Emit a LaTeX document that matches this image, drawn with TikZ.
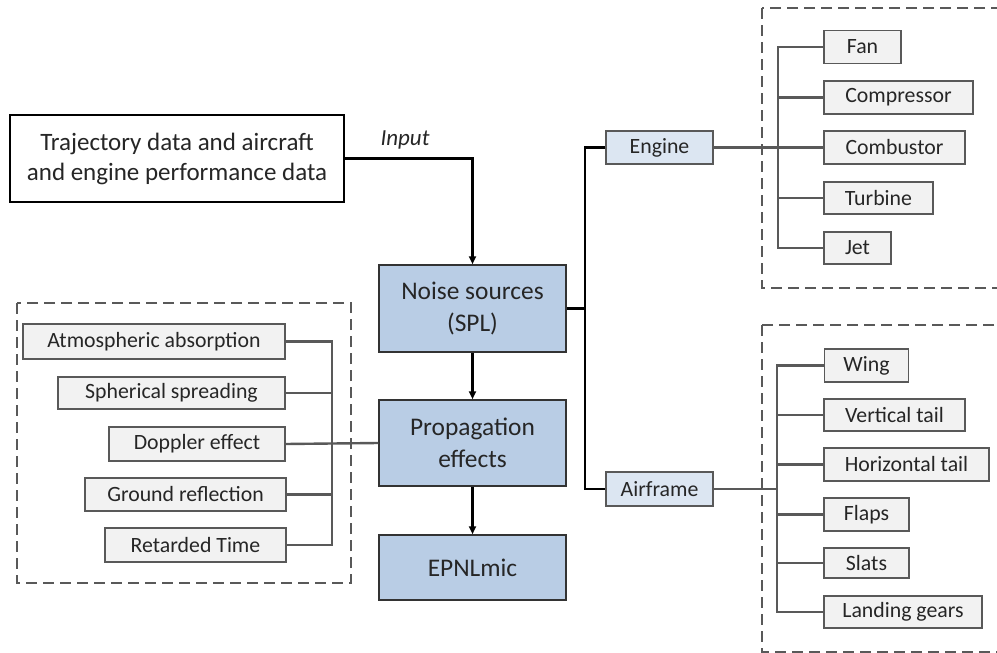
\documentclass[tikz,border=0pt]{standalone}
\usepackage{fontspec}
\setmainfont{Carlito}
\usetikzlibrary{arrows.meta}
\definecolor{mainblue}{HTML}{B9CDE5}
\definecolor{lightblue}{HTML}{DCE6F2}
\definecolor{boxgrey}{HTML}{F2F2F2}
\definecolor{linegrey}{HTML}{595959}
\definecolor{txt}{HTML}{262626}
\tikzset{
  mainbox/.style={draw=black!80, line width=1.5pt, fill=mainblue, inner sep=0pt, align=center, text=txt, font=\fontsize{25.4}{32}\selectfont},
  subbox/.style={draw=linegrey, line width=1.5pt, fill=lightblue, inner sep=0pt, text=txt, font=\fontsize{21.8}{26}\selectfont},
  leaf/.style={draw=linegrey, line width=1.5pt, fill=boxgrey, inner sep=0pt, text=txt, font=\fontsize{21.8}{26}\selectfont},
  inbox/.style={draw=black, line width=2.4pt, fill=white, inner sep=0pt, align=center, text=txt, font=\fontsize{25}{30}\selectfont},
  conn/.style={draw=black, line width=2.2pt},
  arr/.style={conn, -{Triangle[length=8pt,width=7pt]}},
  tree/.style={draw=linegrey, line width=2.4pt},
  dashbox/.style={draw=linegrey, line width=2.2pt, dash pattern=on 11pt off 6pt},
}
\begin{document}
\begin{tikzpicture}[x=1pt,y=-1pt]
\useasboundingbox (0,0) rectangle (997,653);
% dashed groups
\draw[dashbox] (762,8) rectangle (1010,288);
\draw[dashbox] (762,325) rectangle (1010,652);
\draw[dashbox] (17,303) rectangle (351,583);

% input
\node[inbox, minimum width=334, minimum height=87] (traj) at (177,158.5) {Trajectory data and aircraft\\and engine performance data};
\node[text=txt, font=\fontsize{23}{27}\selectfont\itshape] (inlab) at (405,140) {Input};

% main chain
\node[mainbox, minimum width=187, minimum height=87] (noise) at (472.5,308.5) {Noise sources\\(SPL)};
\node[mainbox, minimum width=187, minimum height=86] (prop) at (472.5,443) {Propagation\\effects};
\node[mainbox, minimum width=187, minimum height=65] (epnl) at (472.5,567.5) {EPNLmic};

\draw[arr] (traj.east) -| (noise.north);
\draw[arr] (noise.south) -- (prop.north);
\draw[arr] (prop.south) -- (epnl.north);

% engine / airframe
\node[subbox, minimum width=107, minimum height=33] (engine) at (659.5,147.5) {Engine};
\node[subbox, minimum width=107, minimum height=34] (airframe) at (659.5,489) {Airframe};
\coordinate (mbus) at (585,308.5);
\draw[conn] (noise.east) -- (mbus);
\draw[conn] (engine.west) -| (mbus) |- (airframe.west);

% engine leaves
\node[leaf, minimum width=77, minimum height=33] (fan) at (862.5,47) {Fan};
\node[leaf, minimum width=149, minimum height=33] (comp) at (898.5,97.5) {Compressor};
\node[leaf, minimum width=141, minimum height=33] (comb) at (894.5,147.5) {Combustor};
\node[leaf, minimum width=109, minimum height=32] (turb) at (878.5,198) {Turbine};
\node[leaf, minimum width=67, minimum height=32] (jet) at (857.5,248) {Jet};
\coordinate (eb) at (778,0);
\draw[tree] (fan.west) -| (eb |- jet.west) -- (jet.west);
\draw[tree] (comp.west) -- (comp.west -| eb);
\draw[tree] (turb.west) -- (turb.west -| eb);
\draw[tree] (engine.east) -- (comb.west);

% airframe leaves
\node[leaf, minimum width=84, minimum height=33] (wing) at (866.5,365.5) {Wing};
\node[leaf, minimum width=141, minimum height=32] (vt) at (894.5,415) {Vertical tail};
\node[leaf, minimum width=165, minimum height=33] (ht) at (906.5,464.5) {Horizontal tail};
\node[leaf, minimum width=85, minimum height=33] (flaps) at (866.5,514.5) {Flaps};
\node[leaf, minimum width=85, minimum height=30] (slats) at (866.5,563) {Slats};
\node[leaf, minimum width=158, minimum height=32] (lg) at (903,612) {Landing gears};
\coordinate (ab) at (777,0);
\draw[tree] (wing.west) -| (ab |- lg.west) -- (lg.west);
\draw[tree] (vt.west) -- (vt.west -| ab);
\draw[tree] (ht.west) -- (ht.west -| ab);
\draw[tree] (flaps.west) -- (flaps.west -| ab);
\draw[tree] (slats.west) -- (slats.west -| ab);
\draw[tree] (airframe.east) -- (airframe.east -| ab);

% propagation leaves
\node[leaf, minimum width=262, minimum height=35] (atm) at (154,341.5) {Atmospheric absorption};
\node[leaf, minimum width=227, minimum height=32] (sph) at (171.5,393) {Spherical spreading};
\node[leaf, minimum width=176, minimum height=34] (dop) at (197,444) {Doppler effect};
\node[leaf, minimum width=201, minimum height=33] (gnd) at (185.5,494.5) {Ground reflection};
\node[leaf, minimum width=181, minimum height=34] (ret) at (195.5,545) {Retarded Time};
\coordinate (lb) at (332,0);
\draw[tree] (atm.east) -| (lb |- ret.east) -- (ret.east);
\draw[tree] (sph.east) -- (sph.east -| lb);
\draw[tree] (gnd.east) -- (gnd.east -| lb);
\draw[tree] (dop.east) -- (prop.west);
\end{tikzpicture}
\end{document}
